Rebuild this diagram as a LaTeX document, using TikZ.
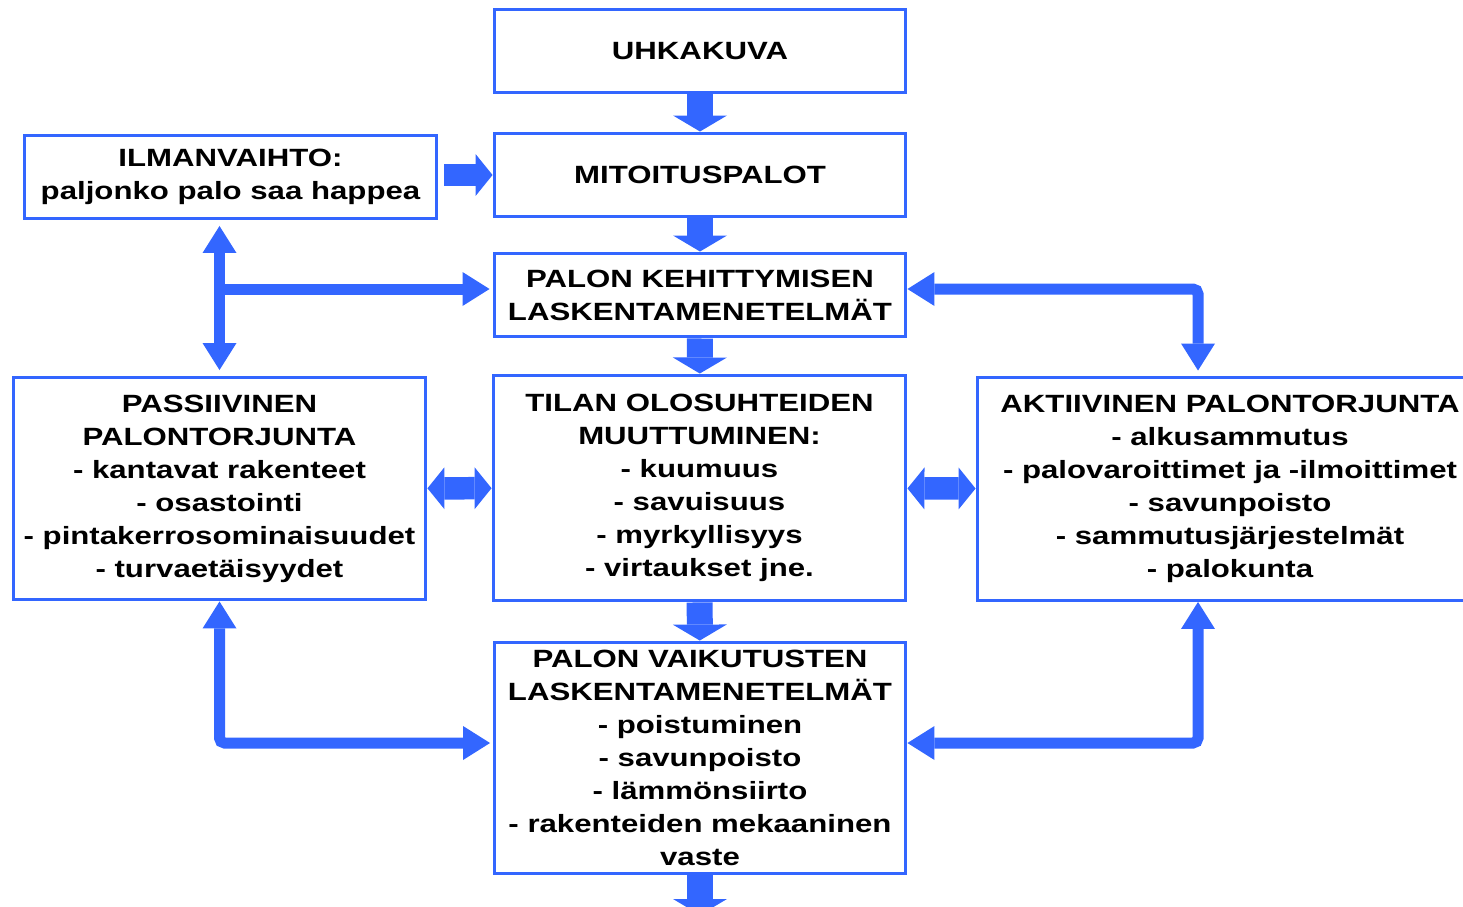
\documentclass[tikz,border=0pt]{standalone}
\usepackage{fontspec}
\setmainfont{Liberation Sans}[FakeStretch=1.25]
\usetikzlibrary{arrows.meta}
\definecolor{uiblue}{RGB}{51,102,255}

\begin{document}
\begin{tikzpicture}[x=0.02cm, y=-0.02cm]
  \tikzstyle{box}=[rectangle, draw=uiblue, line width=0.06cm, minimum width=8.24cm, minimum height=1.68cm, inner sep=0pt, align=center, font=\bfseries\fontsize{14.2}{18.8}\selectfont]
  \tikzstyle{big}=[color=uiblue, line width=0.52cm, >={Triangle[width=1.08cm, length=0.32cm, line width=0pt]}]
  \tikzstyle{mid}=[color=uiblue, line width=0.45cm, >={Triangle[width=0.84cm, length=0.34cm, line width=0pt]}]
  \tikzstyle{link}=[color=uiblue, line width=0.22cm, rounded corners=0.1cm, >={Triangle[width=0.68cm, length=0.54cm, line width=0pt]}]

  \useasboundingbox (0, 0) rectangle (1463, 906);

  \node[box] (0) at (700, 51) {UHKAKUVA};
  \node[box] (1) at (700, 175) {MITOITUSPALOT};
  \node[box, minimum width=8.26cm] (2) at (230.5, 177) {ILMANVAIHTO:\\paljonko palo saa happea};
  \node[box] (3) at (700, 295) {PALON KEHITTYMISEN\\LASKENTAMENETELMÄT};
  \node[box, minimum width=8.26cm, minimum height=4.46cm] (4) at (219.5, 488.5) {PASSIIVINEN\\PALONTORJUNTA\\- kantavat rakenteet\\- osastointi\\- pintakerrosominaisuudet\\- turvaetäisyydet};
  \node[box, minimum width=8.26cm, minimum height=4.52cm] (5) at (699.5, 488) {TILAN OLOSUHTEIDEN\\MUUTTUMINEN:\\- kuumuus\\- savuisuus\\- myrkyllisyys\\- virtaukset jne.};
  \node[box, minimum width=10.12cm, minimum height=4.46cm] (6) at (1230, 489) {AKTIIVINEN PALONTORJUNTA\\- alkusammutus\\- palovaroittimet ja -ilmoittimet\\- savunpoisto\\- sammutusjärjestelmät\\- palokunta};
  \node[box, minimum height=4.64cm] (7) at (700, 758) {PALON VAIKUTUSTEN\\LASKENTAMENETELMÄT\\- poistuminen\\- savunpoisto\\- lämmönsiirto\\- rakenteiden mekaaninen\\vaste};
  \coordinate (8) at (700, 915);

  \coordinate (a) at ([yshift=0.12cm]3.west);
  \coordinate (b) at ([yshift=0.12cm]3.east);
  \coordinate (c) at ([yshift=0.3cm]7.west);
  \coordinate (d) at ([yshift=0.3cm]7.east);

  \path[big, ->] (0) edge (1);
  \path[big, ->] (1) edge (3);
  \path[big, ->] (3) edge (5);
  \path[big, ->] (5) edge (7);
  \path[big, ->] (7) edge (8);

  \draw[mid, ->, shorten <=0.12cm] (2.east |- 1.west) -- (1.west);
  \path[mid, <->] (4) edge (5);
  \path[mid, <->] (5) edge (6);

  \draw[link, <->, shorten <=0.11cm, shorten >=0.11cm] (4.north) -- (4.north |- 2.south);
  \draw[link, ->, shorten >=0.06cm] (4.north |- a) -- (a);
  \draw[link, <->, shorten >=0.11cm] (b) -| ([xshift=-0.64cm]6.north);
  \draw[link, <->, shorten >=0.05cm] (4.south) |- (c);
  \draw[link, <->] ([xshift=-0.64cm]6.south) |- (d);
\end{tikzpicture}
\end{document}
